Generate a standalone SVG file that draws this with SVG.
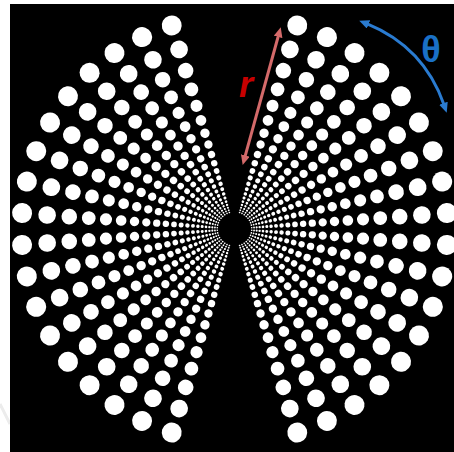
<svg xmlns="http://www.w3.org/2000/svg" xmlns:xlink="http://www.w3.org/1999/xlink" width="454" height="452" viewBox="0 0 454 452">
  <style>
    .dot { fill: #ffffff; }
    .rArrow { stroke: #d46a6a; stroke-width: 3; fill: none; }
    .tArrow { stroke: #2a7bd0; stroke-width: 3; fill: none; }
    .lbl { font-family: "Liberation Sans", Arial, sans-serif; font-weight: bold; }
  </style>
  <defs>
    <marker id="headR" markerUnits="userSpaceOnUse" markerWidth="12" markerHeight="10" refX="2" refY="4.5" orient="auto-start-reverse">
      <path d="M0,0 L10,4.5 L0,9 z" fill="#d46a6a"/>
    </marker>
    <marker id="headB" markerUnits="userSpaceOnUse" markerWidth="12" markerHeight="10" refX="2" refY="4.5" orient="auto-start-reverse">
      <path d="M0,0 L10,4.5 L0,9 z" fill="#2a7bd0"/>
    </marker>
    <g id="ray">
      <circle class="dot" cx="213.0" cy="0" r="10.0"/>
      <circle class="dot" cx="187.87" cy="0" r="8.83"/>
      <circle class="dot" cx="165.70" cy="0" r="7.79"/>
      <circle class="dot" cx="146.15" cy="0" r="6.87"/>
      <circle class="dot" cx="128.90" cy="0" r="6.06"/>
      <circle class="dot" cx="113.69" cy="0" r="5.34"/>
      <circle class="dot" cx="100.27" cy="0" r="4.71"/>
      <circle class="dot" cx="88.44" cy="0" r="4.16"/>
      <circle class="dot" cx="78.01" cy="0" r="3.67"/>
      <circle class="dot" cx="68.80" cy="0" r="3.23"/>
      <circle class="dot" cx="60.68" cy="0" r="2.85"/>
      <circle class="dot" cx="53.52" cy="0" r="2.52"/>
      <circle class="dot" cx="47.21" cy="0" r="2.22"/>
      <circle class="dot" cx="41.64" cy="0" r="1.96"/>
      <circle class="dot" cx="36.72" cy="0" r="1.73"/>
      <circle class="dot" cx="32.39" cy="0" r="1.52"/>
      <circle class="dot" cx="28.57" cy="0" r="1.34"/>
      <circle class="dot" cx="25.20" cy="0" r="1.18"/>
      <circle class="dot" cx="22.22" cy="0" r="1.04"/>
      <circle class="dot" cx="19.60" cy="0" r="0.92"/>
      <circle class="dot" cx="17.29" cy="0" r="0.81"/>
    </g>
  </defs>

  <rect id="background" x="0" y="0" width="454" height="452" fill="#ffffff"/>
  <line x1="0" y1="404" x2="10" y2="424" stroke="#ececec" stroke-width="3"/>
  <rect id="panel" x="10" y="4" width="444" height="448" fill="#000000"/>

  <g id="right-wedge" transform="translate(234.5,229)">
    <use xlink:href="#ray" href="#ray" transform="rotate(-72.857)"/>
    <use xlink:href="#ray" href="#ray" transform="rotate(-64.286)"/>
    <use xlink:href="#ray" href="#ray" transform="rotate(-55.714)"/>
    <use xlink:href="#ray" href="#ray" transform="rotate(-47.143)"/>
    <use xlink:href="#ray" href="#ray" transform="rotate(-38.571)"/>
    <use xlink:href="#ray" href="#ray" transform="rotate(-30)"/>
    <use xlink:href="#ray" href="#ray" transform="rotate(-21.429)"/>
    <use xlink:href="#ray" href="#ray" transform="rotate(-12.857)"/>
    <use xlink:href="#ray" href="#ray" transform="rotate(-4.286)"/>
    <use xlink:href="#ray" href="#ray" transform="rotate(4.286)"/>
    <use xlink:href="#ray" href="#ray" transform="rotate(12.857)"/>
    <use xlink:href="#ray" href="#ray" transform="rotate(21.429)"/>
    <use xlink:href="#ray" href="#ray" transform="rotate(30)"/>
    <use xlink:href="#ray" href="#ray" transform="rotate(38.571)"/>
    <use xlink:href="#ray" href="#ray" transform="rotate(47.143)"/>
    <use xlink:href="#ray" href="#ray" transform="rotate(55.714)"/>
    <use xlink:href="#ray" href="#ray" transform="rotate(64.286)"/>
    <use xlink:href="#ray" href="#ray" transform="rotate(72.857)"/>
  </g>

  <g id="left-wedge" transform="translate(234.5,229)">
    <use xlink:href="#ray" href="#ray" transform="rotate(107.143)"/>
    <use xlink:href="#ray" href="#ray" transform="rotate(115.714)"/>
    <use xlink:href="#ray" href="#ray" transform="rotate(124.286)"/>
    <use xlink:href="#ray" href="#ray" transform="rotate(132.857)"/>
    <use xlink:href="#ray" href="#ray" transform="rotate(141.429)"/>
    <use xlink:href="#ray" href="#ray" transform="rotate(150)"/>
    <use xlink:href="#ray" href="#ray" transform="rotate(158.571)"/>
    <use xlink:href="#ray" href="#ray" transform="rotate(167.143)"/>
    <use xlink:href="#ray" href="#ray" transform="rotate(175.714)"/>
    <use xlink:href="#ray" href="#ray" transform="rotate(184.286)"/>
    <use xlink:href="#ray" href="#ray" transform="rotate(192.857)"/>
    <use xlink:href="#ray" href="#ray" transform="rotate(201.429)"/>
    <use xlink:href="#ray" href="#ray" transform="rotate(210)"/>
    <use xlink:href="#ray" href="#ray" transform="rotate(218.571)"/>
    <use xlink:href="#ray" href="#ray" transform="rotate(227.143)"/>
    <use xlink:href="#ray" href="#ray" transform="rotate(235.714)"/>
    <use xlink:href="#ray" href="#ray" transform="rotate(244.286)"/>
    <use xlink:href="#ray" href="#ray" transform="rotate(252.857)"/>
  </g>

  <g id="connectors">
    <line id="r-arrow" class="rArrow" x1="278.6" y1="35.0" x2="244.8" y2="157.3" marker-start="url(#headR)" marker-end="url(#headR)"/>
    <path id="theta-arrow" class="tArrow" d="M366.7,23.7 Q424,47 444.1,105.1" marker-start="url(#headB)" marker-end="url(#headB)"/>
  </g>

  <g id="labels">
    <text class="lbl" x="246" y="97" font-size="36" font-style="italic" fill="#c80000" text-anchor="middle">r</text>
    <text class="lbl" x="431" y="62" font-size="36" fill="#1a70c6" text-anchor="middle">θ</text>
  </g>
</svg>
